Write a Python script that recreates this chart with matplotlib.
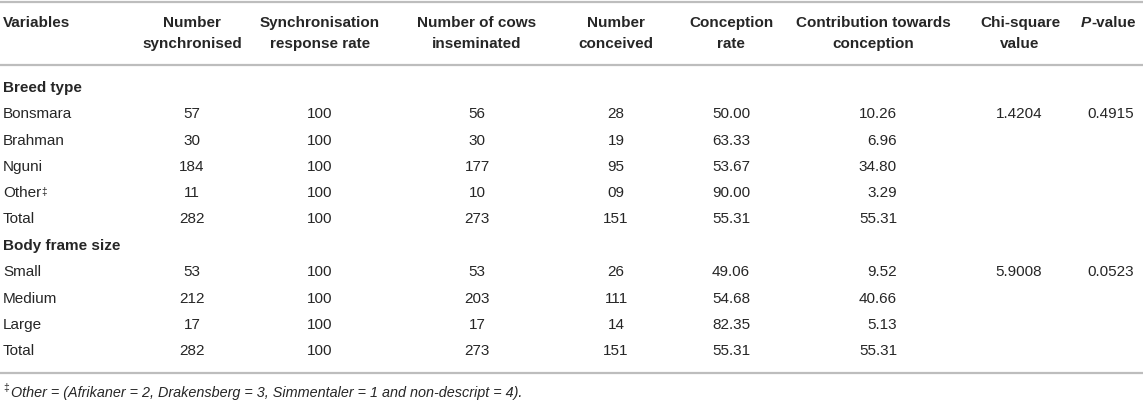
import matplotlib
matplotlib.use("Agg")
import matplotlib.pyplot as plt

plt.rcParams['font.family'] = ['Liberation Sans', 'DejaVu Sans']

# ---- table content ----
headers = [["Variables"],
           ["Number", "synchronised"],
           ["Synchronisation", "response rate"],
           ["Number of cows", "inseminated"],
           ["Number", "conceived"],
           ["Conception", "rate"],
           ["Contribution towards", "conception"],
           ["Chi-square", "value"],
           ["P-value"]]

breed_labels = ["Bonsmara", "Brahman", "Nguni", "Other", "Total"]
breed_sync = ["57", "30", "184", "11", "282"]
breed_rate = ["100", "100", "100", "100", "100"]
breed_insem = ["56", "30", "177", "10", "273"]
breed_conceived = ["28", "19", "95", "09", "151"]
breed_conc_rate = ["50.00", "63.33", "53.67", "90.00", "55.31"]
breed_contrib = ["10.26", "6.96", "34.80", "3.29", "55.31"]
breed_chi = "1.4204"
breed_p = "0.4915"

frame_labels = ["Small", "Medium", "Large", "Total"]
frame_sync = ["53", "212", "17", "282"]
frame_rate = ["100", "100", "100", "100"]
frame_insem = ["53", "203", "17", "273"]
frame_conceived = ["26", "111", "14", "151"]
frame_conc_rate = ["49.06", "54.68", "82.35", "55.31"]
frame_contrib = ["9.52", "40.66", "5.13", "55.31"]
frame_chi = "5.9008"
frame_p = "0.0523"

footnote = "Other = (Afrikaner = 2, Drakensberg = 3, Simmentaler = 1 and non-descript = 4)."

# ---- layout (pixels) ----
W, H = 1143, 406
col_x = [3, 192, 320, 477, 616, 731, 897, 1019, 1111]
col_ha = ['left', 'center', 'center', 'center', 'center', 'center', 'right', 'center', 'center']
head_col_x = [3, 192, 320, 477, 616, 731, 873, 1020, 1111]
txt = '#262626'
rule = '#bdbdbd'
fs = 11
row_h = 26.3

fig = plt.figure(figsize=(W / 100, H / 100), dpi=100)
ax = fig.add_axes([0, 0, 1, 1])
ax.set_xlim(0, W)
ax.set_ylim(H, 0)
ax.axis('off')

for y in (3, 66, 374):
    ax.plot([0, W], [y, y], color=rule, lw=1.6, solid_capstyle='butt')

# header
for i, h in enumerate(headers):
    if h[0] == "P-value":
        x0 = head_col_x[i] - 20
        ax.text(x0, 23, "P", ha='right', va='center', fontsize=fs,
                fontweight='bold', fontstyle='italic', color=txt)
        ax.text(x0, 23, "-value", ha='left', va='center', fontsize=fs,
                fontweight='bold', color=txt)
        continue
    ha = 'left' if i == 0 else 'center'
    for j, line in enumerate(h):
        ax.text(head_col_x[i], 23 + 21 * j, line, ha=ha, va='center',
                fontsize=fs, fontweight='bold', color=txt)


def draw_block(y_title, title, labels, cols, chi, p):
    ax.text(3, y_title, title, ha='left', va='center', fontsize=fs,
            fontweight='bold', color=txt)
    for r, lab in enumerate(labels):
        y = y_title + row_h * (r + 1)
        t = ax.text(3, y, lab, ha='left', va='center', fontsize=fs, color=txt)
        if lab == "Other":
            ax.annotate("\u2021", xy=(1, 1), xycoords=t, xytext=(0, -0.5),
                        textcoords='offset points', ha='left', va='top',
                        fontsize=7, color=txt)
        for c, vals in enumerate(cols):
            ax.text(col_x[c + 1], y, vals[r], ha=col_ha[c + 1], va='center',
                    fontsize=fs, color=txt)
    y = y_title + row_h
    ax.text(col_x[7], y, chi, ha='center', va='center', fontsize=fs, color=txt)
    ax.text(col_x[8], y, p, ha='center', va='center', fontsize=fs, color=txt)


draw_block(88, "Breed type", breed_labels,
           [breed_sync, breed_rate, breed_insem, breed_conceived,
            breed_conc_rate, breed_contrib], breed_chi, breed_p)
draw_block(246, "Body frame size", frame_labels,
           [frame_sync, frame_rate, frame_insem, frame_conceived,
            frame_conc_rate, frame_contrib], frame_chi, frame_p)

# footnote
ax.text(3, 388, "\u2021", ha='left', va='center', fontsize=7.5, color=txt)
ax.text(11, 393, footnote, ha='left', va='center', fontsize=10.4,
        fontstyle='italic', color=txt)

fig.savefig("out.png", dpi=100)
